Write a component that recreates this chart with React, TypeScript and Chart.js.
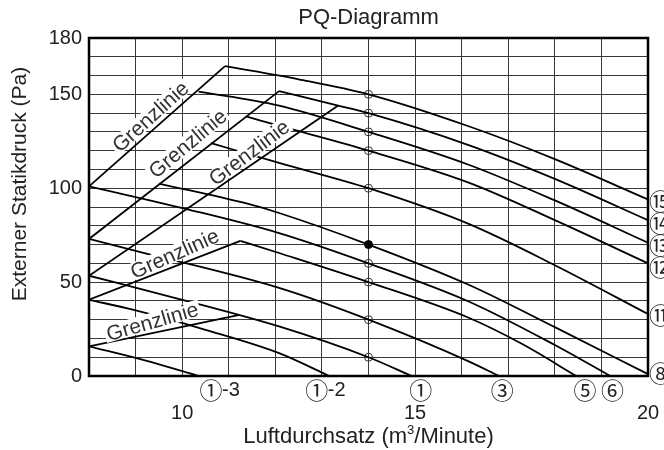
import React, { useEffect, useRef } from 'react';
import { Chart, registerables } from 'chart.js';

Chart.register(...registerables);

// ---------- axes ----------
const X_MIN = 8;
const X_MAX = 20;
const Y_MIN = 0;
const Y_MAX = 180;
const X_TICK_LABELS = [10, 15, 20];
const Y_TICK_LABELS = [0, 50, 100, 150, 180];

// ---------- fan curves [x (m3/min), y (Pa)] ----------
const FAN_15 = [[10.92, 165], [12.5, 158], [14, 150], [16.15, 133], [18, 115.5], [20, 94]];
const FAN_14 = [[12.08, 151.7], [13.35, 144], [14, 140], [16.15, 123], [18, 105], [20, 83]];
const FAN_13 = [[10.35, 151.5], [12.08, 144], [14, 130], [16.15, 112.5], [18, 93.5], [20, 71]];
const FAN_12 = [[11.37, 138.2], [12.37, 131.3], [14, 120], [16.15, 103], [18, 83], [20, 60]];
const FAN_11 = [[10.62, 124], [12.08, 113.5], [14, 100], [16.15, 81], [18, 59], [20, 33]];
const FAN_8 = [[9.5, 102.5], [11.36, 92], [12.08, 86.8], [14, 70], [16.15, 48.6], [18, 26], [20, 1]];
const FAN_6 = [[8, 101], [10.16, 88.5], [12.08, 76.1], [14, 60], [16.15, 39.7], [18, 16.5], [19.19, 0]];
const FAN_5 = [[11.25, 72], [12.08, 65.5], [14, 50], [16.15, 31], [17.3, 17], [18.46, 0]];
const FAN_3 = [[8, 73], [9.19, 65.5], [12.08, 46.9], [14, 30], [16.15, 7.8], [16.8, 0]];
const FAN_1 = [[8, 53.4], [9.94, 41], [12.08, 26.4], [14, 10], [14.93, 0]];
const FAN_1_2 = [[8, 40.6], [8.94, 35.3], [10.5, 24.6], [12.08, 12.2], [13.16, 0]];
const FAN_1_3 = [[8, 15.8], [9.2, 8.3], [10.35, 0]];

// ---------- limit lines (Grenzlinie) ----------
const LIMIT_A = [[8, 101], [10.92, 165]];
const LIMIT_B = [[8, 73], [12.08, 151.7]];
const LIMIT_C = [[8, 53.4], [13.35, 144]];
const LIMIT_D = [[8, 40.6], [11.25, 72]];
const LIMIT_E = [[8, 15.8], [11.23, 32.6]];

// ---------- measuring points on 14 m3/min ----------
const MEASURE_X = 14;
const MEASURE_OPEN = [150, 140, 130, 120, 100, 60, 50, 30, 10];
const MEASURE_FILLED = [70];

// ---------- texts ----------
const TITLE = 'PQ-Diagramm';
const Y_TITLE = 'Externer Statikdruck (Pa)';
const X_TITLE_PARTS = ['Luftdurchsatz (m', '3', '/Minute)'];
const LIMIT_TEXT = 'Grenzlinie';
const LIMIT_LABEL_X = [9.32, 10.12, 11.44, 9.84, 9.36];
const LIMIT_LABEL_Y = [138.1, 123.7, 118.9, 65.1, 28.9];
const LIMIT_LABEL_ANGLE = [-42, -40, -37, -24, -16];
const RIGHT_LABELS = ['⑮', '⑭', '⑬', '⑫', '⑪', '⑧'];
const RIGHT_LABEL_Y = [93, 81.6, 69.4, 57.7, 32.1, 1.2];
const BOTTOM_LABELS = ['①', '①', '①', '③', '⑤', '⑥'];
const BOTTOM_SUFFIX = ['-3', '-2', '', '', '', ''];
const BOTTOM_LABEL_X = [10.62, 12.89, 15.12, 16.87, 18.65, 19.24];

const SANS = "'Liberation Sans', Arial, Helvetica, sans-serif";
const CJK = "'Noto Sans CJK JP', 'Liberation Sans', sans-serif";
const TEXT = '#222';

const toPts = (arr: number[][]) => arr.map(([x, y]) => ({ x, y }));

const annotPlugin = {
  id: 'annot',
  afterDatasetsDraw(chart: any) {
    const { ctx, chartArea: a, scales } = chart;
    const xs = scales.x;
    const ys = scales.y;
    ctx.save();

    // Grenzlinie labels with white knock-out
    ctx.font = `21px ${SANS}`;
    ctx.textAlign = 'center';
    ctx.textBaseline = 'middle';
    LIMIT_LABEL_X.forEach((lx, i) => {
      const px = xs.getPixelForValue(lx);
      const py = ys.getPixelForValue(LIMIT_LABEL_Y[i]);
      ctx.save();
      ctx.translate(px, py);
      ctx.rotate((LIMIT_LABEL_ANGLE[i] * Math.PI) / 180);
      const w = ctx.measureText(LIMIT_TEXT).width;
      ctx.fillStyle = '#fff';
      ctx.fillRect(-w / 2 - 2, -9, w + 4, 17);
      ctx.fillStyle = '#333';
      ctx.fillText(LIMIT_TEXT, 0, 1);
      ctx.restore();
    });

    // frame
    ctx.lineWidth = 2.5;
    ctx.strokeStyle = '#000';
    ctx.strokeRect(a.left, a.top, a.right - a.left, a.bottom - a.top);

    // right labels
    ctx.fillStyle = TEXT;
    ctx.font = `23px ${CJK}`;
    ctx.textAlign = 'left';
    ctx.textBaseline = 'middle';
    RIGHT_LABELS.forEach((t, i) => {
      ctx.fillText(t, a.right + 1, ys.getPixelForValue(RIGHT_LABEL_Y[i]));
    });

    // bottom labels
    BOTTOM_LABELS.forEach((t, i) => {
      const px = xs.getPixelForValue(BOTTOM_LABEL_X[i]);
      const py = a.bottom + 14;
      ctx.font = `23px ${CJK}`;
      ctx.textAlign = 'center';
      ctx.fillText(t, px, py);
      if (BOTTOM_SUFFIX[i]) {
        ctx.font = `20px ${SANS}`;
        ctx.textAlign = 'left';
        ctx.fillText(BOTTOM_SUFFIX[i], px + 11, py);
      }
    });

    // titles
    ctx.font = `22px ${SANS}`;
    ctx.textAlign = 'center';
    ctx.textBaseline = 'middle';
    ctx.fillText(TITLE, (a.left + a.right) / 2, 18);

    ctx.font = `21px ${SANS}`;
    ctx.save();
    ctx.translate(20, 184);
    ctx.rotate(-Math.PI / 2);
    ctx.fillText(Y_TITLE, 0, 0);
    ctx.restore();

    // x title with superscript
    const big = `22px ${SANS}`;
    const small = `13px ${SANS}`;
    ctx.font = big;
    const w0 = ctx.measureText(X_TITLE_PARTS[0]).width;
    const w2 = ctx.measureText(X_TITLE_PARTS[2]).width;
    ctx.font = small;
    const w1 = ctx.measureText(X_TITLE_PARTS[1]).width;
    const total = w0 + w1 + w2;
    let sx = (a.left + a.right) / 2 - total / 2;
    const ty = 437;
    ctx.textAlign = 'left';
    ctx.font = big;
    ctx.fillText(X_TITLE_PARTS[0], sx, ty);
    sx += w0;
    ctx.font = small;
    ctx.fillText(X_TITLE_PARTS[1], sx, ty - 7);
    sx += w1;
    ctx.font = big;
    ctx.fillText(X_TITLE_PARTS[2], sx, ty);

    ctx.restore();
  },
};

const curve = (data: number[][], smooth = true) => ({
  type: 'line' as const,
  data: toPts(data),
  borderColor: '#000',
  borderWidth: 1.8,
  pointRadius: 0,
  fill: false,
  cubicInterpolationMode: smooth ? ('monotone' as const) : ('default' as const),
  tension: 0,
});

export default function App() {
  const ref = useRef<HTMLCanvasElement | null>(null);

  useEffect(() => {
    document.body.style.margin = '0';
    if (!ref.current) return;
    const chart = new Chart(ref.current, {
      type: 'line',
      data: {
        datasets: [
          curve(FAN_15), curve(FAN_14), curve(FAN_13), curve(FAN_12), curve(FAN_11),
          curve(FAN_8), curve(FAN_6), curve(FAN_5), curve(FAN_3), curve(FAN_1),
          curve(FAN_1_2), curve(FAN_1_3),
          curve(LIMIT_A, false), curve(LIMIT_B, false), curve(LIMIT_C, false),
          curve(LIMIT_D, false), curve(LIMIT_E, false),
          {
            type: 'scatter',
            data: MEASURE_OPEN.map((y) => ({ x: MEASURE_X, y })),
            pointRadius: 4,
            pointBorderColor: '#333',
            pointBackgroundColor: 'rgba(0,0,0,0)',
            pointBorderWidth: 1,
          } as any,
          {
            type: 'scatter',
            data: MEASURE_FILLED.map((y) => ({ x: MEASURE_X, y })),
            pointRadius: 4,
            pointBorderColor: '#000',
            pointBackgroundColor: '#000',
            pointBorderWidth: 1,
          } as any,
        ],
      },
      options: {
        animation: false,
        responsive: false,
        maintainAspectRatio: false,
        parsing: false as any,
        layout: { padding: { top: 38, right: 16, left: 0, bottom: 0 } },
        plugins: {
          legend: { display: false },
          tooltip: { enabled: false },
          title: { display: false },
        },
        scales: {
          x: {
            type: 'linear',
            min: X_MIN,
            max: X_MAX,
            afterFit: (s: any) => {
              s.height = 74;
              s.paddingLeft = 0;
              s.paddingRight = 0;
            },
            grid: { color: '#383838', lineWidth: 1, drawTicks: false },
            border: { display: false },
            ticks: {
              stepSize: 1,
              autoSkip: false,
              maxRotation: 0,
              padding: 25,
              color: TEXT,
              font: { family: SANS, size: 20 },
              callback: (v: any) => (X_TICK_LABELS.includes(Number(v)) ? String(v) : ''),
            },
          },
          y: {
            type: 'linear',
            min: Y_MIN,
            max: Y_MAX,
            afterFit: (s: any) => {
              s.width = 89;
              s.paddingTop = 0;
              s.paddingBottom = 0;
            },
            grid: { color: '#383838', lineWidth: 1, drawTicks: false },
            border: { display: false },
            ticks: {
              stepSize: 10,
              autoSkip: false,
              padding: 7,
              color: TEXT,
              font: { family: SANS, size: 20 },
              callback: (v: any) => (Y_TICK_LABELS.includes(Number(v)) ? String(v) : ''),
            },
          },
        } as any,
      },
      plugins: [annotPlugin],
    });
    return () => chart.destroy();
  }, []);

  return (
    <div style={{ position: 'absolute', left: 0, top: 0, width: 664, height: 450, background: '#fff' }}>
      <canvas ref={ref} width={664} height={450} style={{ width: 664, height: 450 }} />
    </div>
  );
}
